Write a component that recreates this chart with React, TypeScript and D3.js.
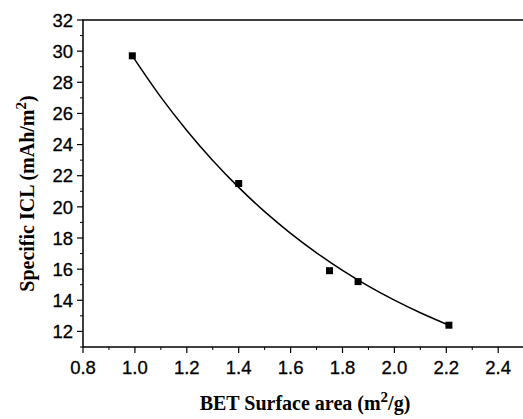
import React from "react";
import * as d3 from "d3";

const pointX = [0.99, 1.4, 1.75, 1.86, 2.21];
const pointY = [29.7, 21.5, 15.9, 15.2, 12.4];
const curveX = [0.99, 1.1, 1.2, 1.3, 1.4, 1.5, 1.6, 1.7, 1.8, 1.9, 2.0, 2.1, 2.21];
const curveY = [29.7, 27.05, 24.91, 22.98, 21.25, 19.69, 18.3, 17.05, 15.92, 14.91, 14.01, 13.2, 12.4];
const xTicks = [0.8, 1.0, 1.2, 1.4, 1.6, 1.8, 2.0, 2.2, 2.4];
const yTicks = [12, 14, 16, 18, 20, 22, 24, 26, 28, 30, 32];

const W = 523, H = 419;
const left = 83, top = 20, bottom = 347;

export default function App() {
  const x = d3.scaleLinear().domain([0.8, 2.5]).range([left, left + 259.5 * 1.7]);
  const y = d3.scaleLinear().domain([11, 32]).range([bottom, top]);
  const line = d3.line<number>().x((d, i) => x(curveX[i])).y((d) => y(d)).curve(d3.curveCatmullRom);
  const xMinor = d3.range(8, 25).map((v) => v / 10).filter((v) => Math.round(v * 10) % 2 === 1);
  const yMinor = d3.range(11, 32).filter((v) => v % 2 === 1);
  const tickFont = "'Liberation Sans', Arial, sans-serif";
  const titleFont = "'Liberation Serif', 'Times New Roman', serif";
  return (
    <svg width={W} height={H} style={{ position: "absolute", left: 0, top: 0, background: "#fff" }}>
      <rect x={left} y={top} width={x(2.5) - left} height={bottom - top} fill="none" stroke="#000" strokeWidth={1.5} />
      {yTicks.map((t) => (
        <g key={"y" + t}>
          <line x1={left - 6} x2={left} y1={y(t)} y2={y(t)} stroke="#000" strokeWidth={1.2} />
          <text x={left - 10} y={y(t)} dy="0.36em" textAnchor="end" fontFamily={tickFont} fontSize={18.5} stroke="#000" strokeWidth={0.3}>
            {t}
          </text>
        </g>
      ))}
      {yMinor.map((t) => (
        <line key={"ym" + t} x1={left - 3} x2={left} y1={y(t)} y2={y(t)} stroke="#000" strokeWidth={1} />
      ))}
      {xTicks.map((t) => (
        <g key={"x" + t}>
          <line x1={x(t)} x2={x(t)} y1={bottom} y2={bottom + 6} stroke="#000" strokeWidth={1.2} />
          <text x={x(t)} y={bottom + 27} textAnchor="middle" fontFamily={tickFont} fontSize={18.5} stroke="#000" strokeWidth={0.3}>
            {t.toFixed(1)}
          </text>
        </g>
      ))}
      {xMinor.map((t) => (
        <line key={"xm" + t} x1={x(t)} x2={x(t)} y1={bottom} y2={bottom + 3} stroke="#000" strokeWidth={1} />
      ))}
      <path d={line(curveY) || ""} fill="none" stroke="#000" strokeWidth={1.5} />
      {pointX.map((px, i) => (
        <rect key={"p" + i} x={x(px) - 3.5} y={y(pointY[i]) - 3.5} width={7} height={7} fill="#000" />
      ))}
      <text x={305} y={410} textAnchor="middle" fontFamily={titleFont} fontWeight="bold" fontSize={20}>
        BET Surface area (m<tspan dy={-8} fontSize={15}>2</tspan><tspan dy={8}>/g)</tspan>
      </text>
      <text
        transform={`translate(34, ${(top + bottom) / 2 + 10}) rotate(-90)`}
        textAnchor="middle"
        fontFamily={titleFont}
        fontWeight="bold"
        fontSize={20}
      >
        Specific ICL (mAh/m<tspan dy={-8} fontSize={15}>2</tspan><tspan dy={8}>)</tspan>
      </text>
    </svg>
  );
}
